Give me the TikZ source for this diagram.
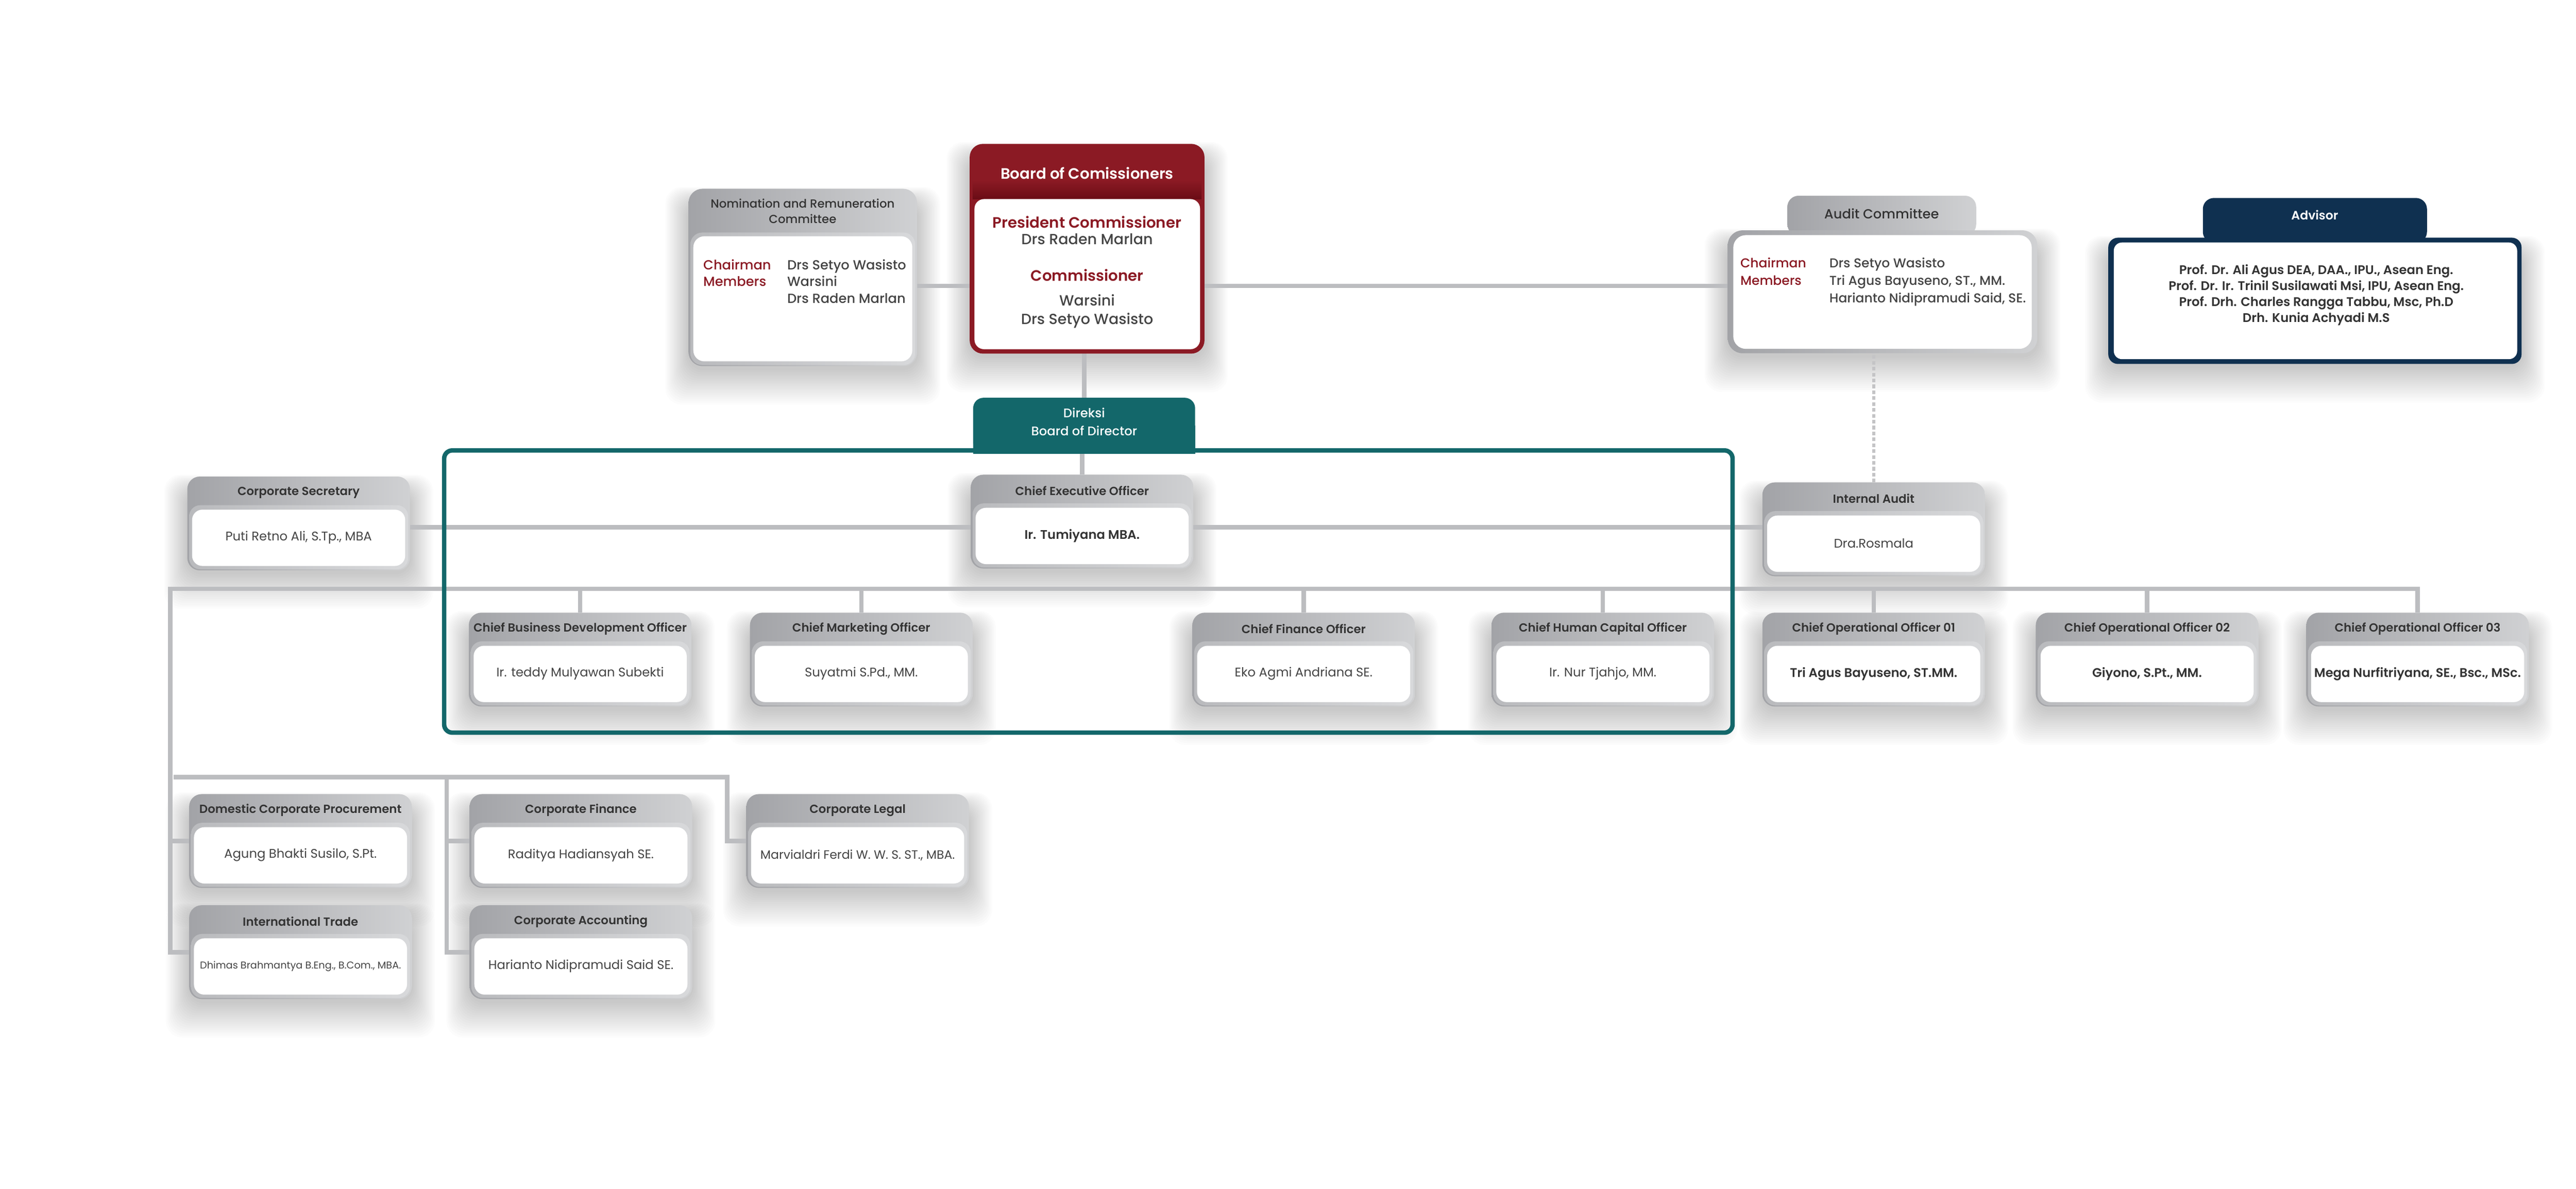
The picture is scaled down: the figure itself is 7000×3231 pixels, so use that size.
\documentclass[tikz,border=0pt]{standalone}
\usepackage{fontspec}
\setmainfont{Poppins}[BoldFont={Poppins SemiBold}]
\newfontfamily\popmed{Poppins Medium}
\usetikzlibrary{calc}
\definecolor{bocred}{HTML}{8B1A24}
\definecolor{bocdark}{HTML}{6A0C15}
\definecolor{dirteal}{HTML}{13676A}
\definecolor{advnavy}{HTML}{0F3050}
\definecolor{linegray}{HTML}{BCBDC0}
\definecolor{dashgray}{HTML}{C4C4C6}
\definecolor{hdrL}{HTML}{A2A3A7}
\definecolor{hdrR}{HTML}{D0D1D3}
\definecolor{lipL}{HTML}{B9BABD}
\definecolor{lipR}{HTML}{D8D9DB}
\definecolor{txt}{HTML}{333333}
\definecolor{nametxt}{HTML}{444444}
\pgfdeclarelayer{shadowlayer}
\pgfdeclarelayer{linelayer}
\pgfsetlayers{shadowlayer,linelayer,main}
\newcommand{\fsz}[2]{\fontsize{#1}{#2}\selectfont}
\tikzset{
  boxouter/.style={rectangle, inner sep=0pt, outer sep=0pt, draw=none, rounded corners=34pt,
    left color=hdrL, right color=hdrR, minimum width=605pt, minimum height=255pt, anchor=north west},
  hdrtext/.style={text=txt, font=\bfseries\fsz{32}{38}, inner sep=0pt},
  nametext/.style={text=nametxt, font=\fsz{34}{40}, inner sep=0pt},
  namebold/.style={text=txt, font=\bfseries\fsz{34}{40}, inner sep=0pt},
  namesmall/.style={text=nametxt, font=\fsz{33}{38}, inner sep=0pt},
  nametiny/.style={text=nametxt, font=\fsz{27}{32}, inner sep=0pt},
  conn/.style={draw=linegray, line width=12pt},
  dashconn/.style={draw=dashgray, line width=8pt, dash pattern=on 10pt off 6pt},
}
\newcommand{\softshadow}[1]{%
  \begin{pgfonlayer}{shadowlayer}
  \foreach \i in {1,...,18}{%
    \fill[black, opacity=0.013, rounded corners=45pt]
      ($(#1.south west)+(-3.5*\i, 6+5.5*\i)$) rectangle ($(#1.north east)+(3.5*\i, 40-2.5*\i)$);
  }
  \end{pgfonlayer}}
\newcommand{\stdbox}[6]{%
  \node[boxouter] (#1) at (#2,#3) {};
  \softshadow{#1}
  \path[left color=lipL, right color=lipR, rounded corners=30pt]
    ($(#1.south west)+(5,-3)$) rectangle ($(#1.north east)+(-5,78)$);
  \fill[white, rounded corners=28pt]
    ($(#1.south west)+(13,-12)$) rectangle ($(#1.north east)+(-13,90)$);
  \node[hdrtext] (#1-h) at ($(#1.north)+(0,44)$) {#4};
  \node[#6] (#1-n) at ($(#1.north)+(0,166)$) {#5};
}
\begin{document}
\begin{tikzpicture}[x=1pt,y=-1pt]
\useasboundingbox (0,0) rectangle (7000,3231);
\begin{pgfonlayer}{shadowlayer}
\fill[white] (0,0) rectangle (7000,3231);
\end{pgfonlayer}

% ---------- Board of Commissioners ----------
\node[rectangle, inner sep=0pt, outer sep=0pt, rounded corners=36pt, fill=bocred,
  minimum width=638pt, minimum height=570pt, anchor=north west] (boc) at (2635,391) {};
\softshadow{boc}
\shade[top color=bocred, bottom color=bocdark] ($(boc.north west)+(8,100)$) rectangle ($(boc.north east)+(-8,150)$);
\fill[white, rounded corners=26pt] ($(boc.south west)+(13,-12)$) rectangle ($(boc.north east)+(-12,150)$);
\node[text=white, font=\bfseries\fsz{41}{46}, inner sep=0pt] (boc-h) at ($(boc.north)+(0,79)$) {Board of Comissioners};
\node[text=bocred, font=\bfseries\fsz{41}{46}, inner sep=0pt] (boc-t1) at (2954,603) {President Commissioner};
\node[text=nametxt, font=\popmed\fsz{40}{46}, inner sep=0pt] (boc-n1) at (2954,650) {Drs Raden Marlan};
\node[text=bocred, font=\bfseries\fsz{41}{46}, inner sep=0pt] (boc-t2) at (2954,748) {Commissioner};
\node[text=nametxt, font=\popmed\fsz{40}{51}, inner sep=0pt, align=center] (boc-n2) at (2954,846) {Warsini\\Drs Setyo Wasisto};

% ---------- Nomination and Remuneration Committee ----------
\node[boxouter, minimum width=621pt, minimum height=482pt, rounded corners=38pt] (nom) at (1871,513) {};
\softshadow{nom}
\path[left color=lipL, right color=lipR, rounded corners=32pt]
  ($(nom.south west)+(5,-3)$) rectangle ($(nom.north east)+(-5,119)$);
\fill[white, rounded corners=30pt] ($(nom.south west)+(13,-13)$) rectangle ($(nom.north east)+(-13,129)$);
\node[hdrtext, font=\popmed\fsz{32}{42}, align=center] (nom-h) at (2181,574) {Nomination and Remuneration\\Committee};
\node[anchor=west, text=nametxt, font=\popmed\fsz{36}{46}, inner sep=0pt] (nom-t) at (1911,769)
  {\begin{tabular}{@{}p{228pt}@{}l@{}}\textcolor{bocred}{Chairman} & Drs Setyo Wasisto\\
   \textcolor{bocred}{Members} & Warsini\\ & Drs Raden Marlan\end{tabular}};

% ---------- Audit Committee ----------
\node[boxouter, minimum width=513pt, minimum height=108pt, rounded corners=30pt] (audit-tab) at (4857,532) {};
\node[boxouter, minimum width=841pt, minimum height=334pt, rounded corners=40pt] (audit) at (4695,626) {};
\softshadow{audit}
\fill[white, rounded corners=34pt] ($(audit.south west)+(15,-12)$) rectangle ($(audit.north east)+(-15,13)$);
\node[hdrtext, font=\popmed\fsz{36}{42}] (audit-h) at (5113,580) {Audit Committee};
\node[anchor=west, text=nametxt, font=\popmed\fsz{35}{48}, inner sep=0pt] (audit-t) at (4729,765)
  {\begin{tabular}{@{}p{242pt}@{}l@{}}\textcolor{bocred}{Chairman} & Drs Setyo Wasisto\\
   \textcolor{bocred}{Members} & Tri Agus Bayuseno, ST., MM.\\ & Harianto Nidipramudi Said, SE.\end{tabular}};

% ---------- Advisor ----------
\node[rectangle, inner sep=0pt, outer sep=0pt, rounded corners=30pt, fill=advnavy,
  minimum width=609pt, minimum height=122pt, anchor=north west] (adv-tab) at (5986,538) {};
\node[rectangle, inner sep=0pt, outer sep=0pt, rounded corners=26pt, fill=advnavy,
  minimum width=1123pt, minimum height=343pt, anchor=north west] (adv) at (5729,646) {};
\softshadow{adv}
\fill[white, rounded corners=22pt] ($(adv.south west)+(15,-13)$) rectangle ($(adv.north east)+(-12,13)$);
\node[text=white, font=\bfseries\fsz{33}{40}, inner sep=0pt] (adv-h) at (6290,584) {Advisor};
\node[text=txt, font=\bfseries\fsz{34}{43.3}, inner sep=0pt, align=center] (adv-n) at (6294,802)
  {Prof. Dr. Ali Agus DEA, DAA., IPU., Asean Eng.\\
   Prof. Dr. Ir. Trinil Susilawati Msi, IPU, Asean Eng.\\
   Prof. Drh. Charles Rangga Tabbu, Msc, Ph.D\\
   Drh. Kunia Achyadi M.S};

% ---------- Board of Director frame ----------
\node[rectangle, draw=dirteal, line width=12pt, rounded corners=22pt, inner sep=0pt, outer sep=0pt,
  minimum width=3501pt, minimum height=767pt, anchor=north west] (frame) at (1207,1224) {};
\node[rectangle, fill=dirteal, rounded corners=28pt, inner sep=0pt, outer sep=0pt,
  minimum width=603pt, minimum height=152pt] (direksi) at (2946,1157) {};
\node[text=white, align=center, font=\popmed\fsz{34}{49}, inner sep=0pt] (direksi-t) at (2946,1146) {Direksi\\Board of Director};

% ---------- Standard boxes ----------
\stdbox{corpsec}{509}{1295}{Corporate Secretary}{Puti Retno Ali, S.Tp., MBA}{nametext}
\stdbox{ceo}{2638}{1290}{Chief Executive Officer}{Ir. Tumiyana MBA.}{namebold}
\stdbox{ia}{4789}{1311}{Internal Audit}{Dra.Rosmala}{nametext}
\stdbox{cbdo}{1274}{1665}{Chief Business Development Officer}{Ir. teddy Mulyawan Subekti}{nametext}
\stdbox{cmo}{2038}{1665}{Chief Marketing Officer}{Suyatmi S.Pd., MM.}{nametext}
\stdbox{cfo}{3240}{1665}{Chief Finance Officer}{Eko Agmi Andriana SE.}{nametext}
\stdbox{chco}{4053}{1665}{Chief Human Capital Officer}{Ir. Nur Tjahjo, MM.}{nametext}
\stdbox{cooa}{4789}{1665}{Chief Operational Officer 01}{Tri Agus Bayuseno, ST.MM.}{namebold}
\stdbox{coob}{5532}{1665}{Chief Operational Officer 02}{Giyono, S.Pt., MM.}{namebold}
\stdbox{cooc}{6267}{1665}{Chief Operational Officer 03}{Mega Nurfitriyana, SE., Bsc., MSc.}{namebold}
\stdbox{dcp}{514}{2158}{Domestic Corporate Procurement}{Agung Bhakti Susilo, S.Pt.}{nametext}
\stdbox{cfin}{1276}{2158}{Corporate Finance}{Raditya Hadiansyah SE.}{nametext}
\stdbox{clegal}{2028}{2158}{Corporate Legal}{Marvialdri Ferdi W. W. S. ST., MBA.}{namesmall}
\stdbox{itrade}{514}{2460}{International Trade}{Dhimas Brahmantya B.Eng., B.Com., MBA.}{nametiny}
\stdbox{cacc}{1276}{2460}{Corporate Accounting}{Harianto Nidipramudi Said SE.}{nametext}

% ---------- Connectors ----------
\begin{pgfonlayer}{linelayer}
\fill[dirteal] (direksi.south west) rectangle (direksi.east);
\coordinate (yA) at (0,777);
\coordinate (yB) at (0,1433);
\coordinate (bus) at (463,1600);
\coordinate (yC) at (472,2112);
\coordinate (legalj) at ($(clegal.west)+(-52,0)$);
\coordinate (finj) at ($(cfin.west)+(-62,0)$);
\draw[conn] (nom.east |- yA) -- (boc.west |- yA);
\draw[conn] (boc.east |- yA) -- (audit.west |- yA);
\draw[conn] (direksi.north) -- (direksi.north |- boc.south);
\draw[conn] (ceo.north) -- (ceo.north |- direksi.south);
\draw[conn] (corpsec.east |- yB) -- (ceo.west |- yB);
\draw[conn] (ceo.east |- yB) -- (ia.west |- yB);
\draw[dashconn] (ia.north) -- (ia.north |- audit.south);
\draw[conn] (cooc.north) |- (bus) -- (bus |- itrade.west) -- (itrade.west);
\foreach \n in {cbdo,cmo,cfo,chco,cooa,coob}{\draw[conn] (\n.north) -- (\n.north |- bus);}
\draw[conn] (yC) -| (legalj) -- (clegal.west);
\draw[conn] (dcp.west) -- (dcp.west -| bus);
\draw[conn] (finj |- yC) -- (finj |- cacc.west) -- (cacc.west);
\draw[conn] (finj) -- (cfin.west);
\end{pgfonlayer}
\end{tikzpicture}
\end{document}
